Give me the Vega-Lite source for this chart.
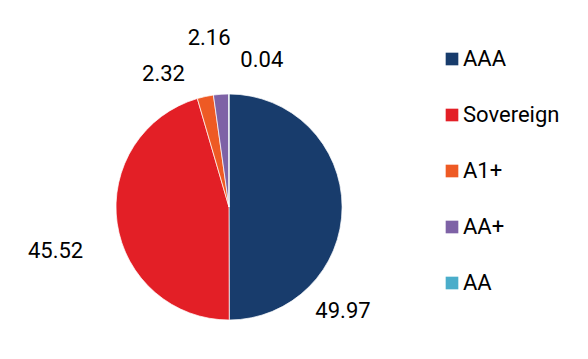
{
  "$schema": "https://vega.github.io/schema/vega-lite/v6.json",
  "autosize": {"type": "none"},
  "width": 458,
  "height": 304,
  "padding": {"left": 0, "top": 55, "right": 130, "bottom": 0},
  "background": "white",
  "config": {"view": {"stroke": null}, "font": "Roboto"},
  "data": {"values": [
    {"rating": "AAA", "value": 49.97},
    {"rating": "Sovereign", "value": 45.52},
    {"rating": "A1+", "value": 2.32},
    {"rating": "AA+", "value": 2.16},
    {"rating": "AA", "value": 0.04}
  ]},
  "encoding": {
    "theta": {"field": "value", "type": "quantitative", "stack": true},
    "order": {"field": "value", "sort": "descending"}
  },
  "layer": [
    {
      "mark": {"type": "arc", "outerRadius": 113, "stroke": "white", "strokeWidth": 0.7},
      "encoding": {
        "color": {
          "field": "rating", "type": "nominal",
          "scale": {"domain": ["AAA", "Sovereign", "A1+", "AA+", "AA"], "range": ["#183c6c", "#e31f26", "#ee5a24", "#7e62a6", "#4aadca"]},
          "legend": {
            "orient": "none", "legendX": 441, "legendY": -7, "title": null,
            "symbolType": "square", "symbolSize": 160, "symbolStrokeWidth": 0,
            "labelFontSize": 22, "labelFont": "Roboto", "labelFontWeight": 400, "labelColor": "#000000",
            "labelOffset": 0, "rowPadding": 34, "padding": 0
          }
        }
      }
    },
    {
      "mark": {"type": "text", "radius": 155, "fontSize": 22, "fontWeight": 400, "font": "Roboto", "color": "#000000", "align": "center", "baseline": "middle", "dx": -41, "dy": 104},
      "encoding": {"text": {"condition": {"test": "datum.rating === 'AAA'", "field": "value", "type": "quantitative", "format": ".2f"}, "value": ""}}
    },
    {
      "mark": {"type": "text", "radius": 155, "fontSize": 22, "fontWeight": 400, "font": "Roboto", "color": "#000000", "align": "center", "baseline": "middle", "dx": -20, "dy": 22},
      "encoding": {"text": {"condition": {"test": "datum.rating === 'Sovereign'", "field": "value", "type": "quantitative", "format": ".2f"}, "value": ""}}
    },
    {
      "mark": {"type": "text", "radius": 155, "fontSize": 22, "fontWeight": 400, "font": "Roboto", "color": "#000000", "align": "center", "baseline": "middle", "dx": -33, "dy": 19},
      "encoding": {"text": {"condition": {"test": "datum.rating === 'A1+'", "field": "value", "type": "quantitative", "format": ".2f"}, "value": ""}}
    },
    {
      "mark": {"type": "text", "radius": 155, "fontSize": 22, "fontWeight": 400, "font": "Roboto", "color": "#000000", "align": "center", "baseline": "middle", "dx": -9, "dy": -14},
      "encoding": {"text": {"condition": {"test": "datum.rating === 'AA+'", "field": "value", "type": "quantitative", "format": ".2f"}, "value": ""}}
    },
    {
      "mark": {"type": "text", "radius": 155, "fontSize": 22, "fontWeight": 400, "font": "Roboto", "color": "#000000", "align": "center", "baseline": "middle", "dx": 33, "dy": 8},
      "encoding": {"text": {"condition": {"test": "datum.rating === 'AA'", "field": "value", "type": "quantitative", "format": ".2f"}, "value": ""}}
    }
  ]
}
